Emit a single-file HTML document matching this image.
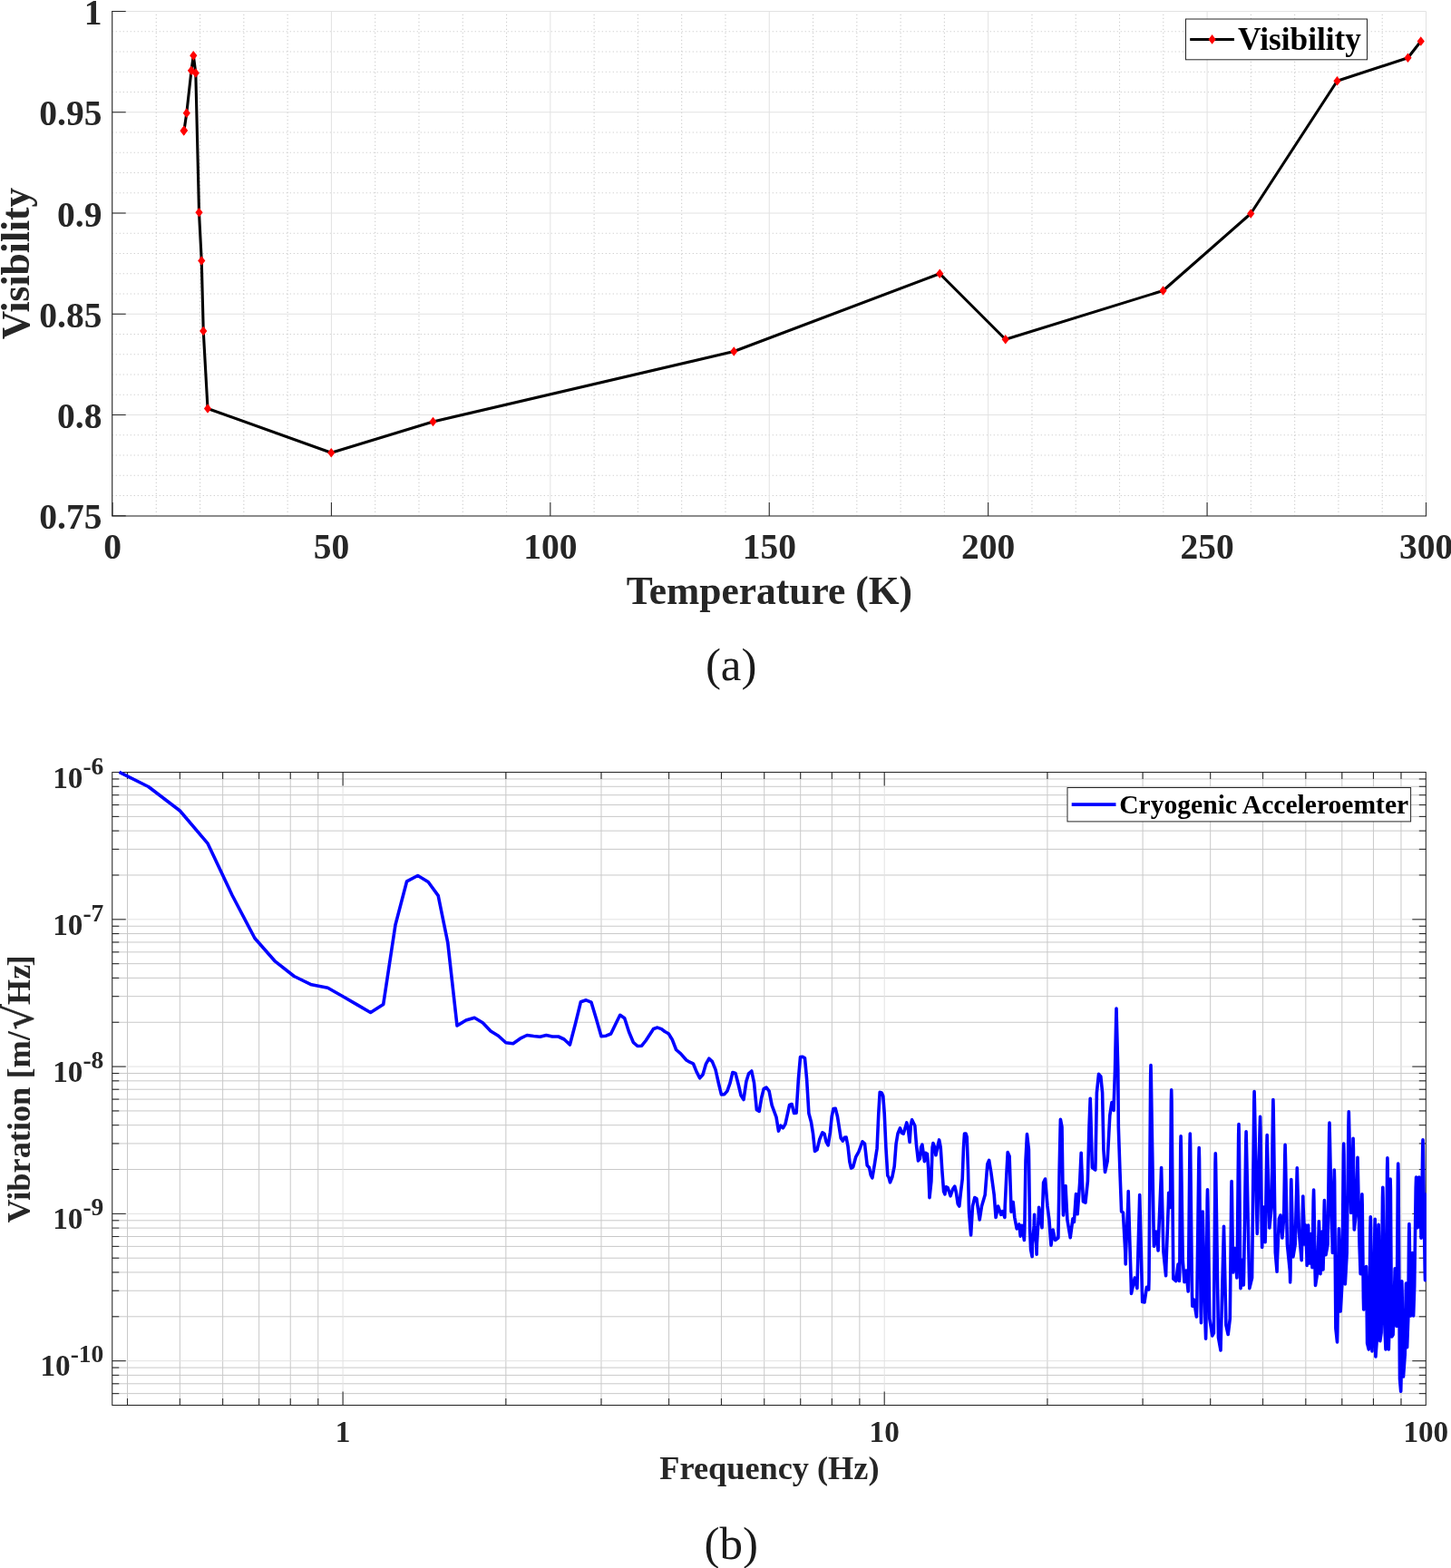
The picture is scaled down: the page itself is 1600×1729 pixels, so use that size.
<!DOCTYPE html>
<html lang="en">
<head>
<meta charset="utf-8">
<title>Visibility vs temperature and cryogenic accelerometer vibration spectrum</title>
<style>
html,body{margin:0;padding:0;background:#fff;}
body{width:1600px;height:1729px;overflow:hidden;}
svg{display:block;}
text{white-space:pre;}
</style>
</head>
<body>
<svg width="1600" height="1729" viewBox="0 0 1600 1729" role="img" aria-label="Two stacked plots: (a) visibility versus temperature, (b) vibration spectrum of a cryogenic accelerometer">
<rect width="1600" height="1729" fill="#fff"/>
<g id="chart-a">
<g stroke="#cdcdcd" stroke-width="1.1" stroke-dasharray="1.2 2.8" fill="none">
<line x1="172.28" y1="569.00" x2="172.28" y2="12.50"/>
<line x1="220.57" y1="569.00" x2="220.57" y2="12.50"/>
<line x1="268.85" y1="569.00" x2="268.85" y2="12.50"/>
<line x1="317.13" y1="569.00" x2="317.13" y2="12.50"/>
<line x1="413.70" y1="569.00" x2="413.70" y2="12.50"/>
<line x1="461.98" y1="569.00" x2="461.98" y2="12.50"/>
<line x1="510.27" y1="569.00" x2="510.27" y2="12.50"/>
<line x1="558.55" y1="569.00" x2="558.55" y2="12.50"/>
<line x1="655.12" y1="569.00" x2="655.12" y2="12.50"/>
<line x1="703.40" y1="569.00" x2="703.40" y2="12.50"/>
<line x1="751.68" y1="569.00" x2="751.68" y2="12.50"/>
<line x1="799.97" y1="569.00" x2="799.97" y2="12.50"/>
<line x1="896.53" y1="569.00" x2="896.53" y2="12.50"/>
<line x1="944.82" y1="569.00" x2="944.82" y2="12.50"/>
<line x1="993.10" y1="569.00" x2="993.10" y2="12.50"/>
<line x1="1041.38" y1="569.00" x2="1041.38" y2="12.50"/>
<line x1="1137.95" y1="569.00" x2="1137.95" y2="12.50"/>
<line x1="1186.23" y1="569.00" x2="1186.23" y2="12.50"/>
<line x1="1234.52" y1="569.00" x2="1234.52" y2="12.50"/>
<line x1="1282.80" y1="569.00" x2="1282.80" y2="12.50"/>
<line x1="1379.37" y1="569.00" x2="1379.37" y2="12.50"/>
<line x1="1427.65" y1="569.00" x2="1427.65" y2="12.50"/>
<line x1="1475.93" y1="569.00" x2="1475.93" y2="12.50"/>
<line x1="1524.22" y1="569.00" x2="1524.22" y2="12.50"/>
<line x1="123.70" y1="546.50" x2="1572.50" y2="546.50"/>
<line x1="123.70" y1="524.25" x2="1572.50" y2="524.25"/>
<line x1="123.70" y1="502.00" x2="1572.50" y2="502.00"/>
<line x1="123.70" y1="479.75" x2="1572.50" y2="479.75"/>
<line x1="123.70" y1="435.25" x2="1572.50" y2="435.25"/>
<line x1="123.70" y1="413.00" x2="1572.50" y2="413.00"/>
<line x1="123.70" y1="390.75" x2="1572.50" y2="390.75"/>
<line x1="123.70" y1="368.50" x2="1572.50" y2="368.50"/>
<line x1="123.70" y1="324.00" x2="1572.50" y2="324.00"/>
<line x1="123.70" y1="301.75" x2="1572.50" y2="301.75"/>
<line x1="123.70" y1="279.50" x2="1572.50" y2="279.50"/>
<line x1="123.70" y1="257.25" x2="1572.50" y2="257.25"/>
<line x1="123.70" y1="212.75" x2="1572.50" y2="212.75"/>
<line x1="123.70" y1="190.50" x2="1572.50" y2="190.50"/>
<line x1="123.70" y1="168.25" x2="1572.50" y2="168.25"/>
<line x1="123.70" y1="146.00" x2="1572.50" y2="146.00"/>
<line x1="123.70" y1="101.50" x2="1572.50" y2="101.50"/>
<line x1="123.70" y1="79.25" x2="1572.50" y2="79.25"/>
<line x1="123.70" y1="57.00" x2="1572.50" y2="57.00"/>
<line x1="123.70" y1="34.75" x2="1572.50" y2="34.75"/>
</g>
<g stroke="#e2e2e2" stroke-width="1.0" fill="none">
<line x1="124.00" y1="569.00" x2="124.00" y2="12.50"/>
<line x1="365.42" y1="569.00" x2="365.42" y2="12.50"/>
<line x1="606.83" y1="569.00" x2="606.83" y2="12.50"/>
<line x1="848.25" y1="569.00" x2="848.25" y2="12.50"/>
<line x1="1089.67" y1="569.00" x2="1089.67" y2="12.50"/>
<line x1="1331.08" y1="569.00" x2="1331.08" y2="12.50"/>
<line x1="1572.50" y1="569.00" x2="1572.50" y2="12.50"/>
<line x1="123.70" y1="568.75" x2="1572.50" y2="568.75"/>
<line x1="123.70" y1="457.50" x2="1572.50" y2="457.50"/>
<line x1="123.70" y1="346.25" x2="1572.50" y2="346.25"/>
<line x1="123.70" y1="235.00" x2="1572.50" y2="235.00"/>
<line x1="123.70" y1="123.75" x2="1572.50" y2="123.75"/>
<line x1="123.70" y1="12.50" x2="1572.50" y2="12.50"/>
</g>
<g stroke="#262626" stroke-width="1.05" fill="none">
<path d="M123.70 11.90V569.00H1573.10"/>
<line x1="124.00" y1="569.00" x2="124.00" y2="554.00"/>
<line x1="365.42" y1="569.00" x2="365.42" y2="554.00"/>
<line x1="606.83" y1="569.00" x2="606.83" y2="554.00"/>
<line x1="848.25" y1="569.00" x2="848.25" y2="554.00"/>
<line x1="1089.67" y1="569.00" x2="1089.67" y2="554.00"/>
<line x1="1331.08" y1="569.00" x2="1331.08" y2="554.00"/>
<line x1="1572.50" y1="569.00" x2="1572.50" y2="554.00"/>
<line x1="123.70" y1="568.75" x2="138.70" y2="568.75"/>
<line x1="123.70" y1="457.50" x2="138.70" y2="457.50"/>
<line x1="123.70" y1="346.25" x2="138.70" y2="346.25"/>
<line x1="123.70" y1="235.00" x2="138.70" y2="235.00"/>
<line x1="123.70" y1="123.75" x2="138.70" y2="123.75"/>
<line x1="123.70" y1="12.50" x2="138.70" y2="12.50"/>
</g>
<polyline fill="none" stroke="#000" stroke-width="3.1" stroke-linejoin="round" points="202.60,144.30 203.00,143.80 205.80,124.70 211.00,77.80 213.30,61.30 215.80,80.50 219.50,234.25 222.25,287.50 224.25,365.00 229.00,450.50 365.25,499.25 477.50,465.00 809.25,387.50 1036.25,301.75 1108.75,374.25 1282.50,320.50 1379.25,235.50 1474.50,89.25 1552.50,63.75 1566.75,45.50"/>
<g fill="#ff0000">
<path d="M202.60 138.95L206.70 144.30L202.60 149.65L198.50 144.30Z"/>
<path d="M203.00 138.45L207.10 143.80L203.00 149.15L198.90 143.80Z"/>
<path d="M205.80 119.35L209.90 124.70L205.80 130.05L201.70 124.70Z"/>
<path d="M211.00 72.45L215.10 77.80L211.00 83.15L206.90 77.80Z"/>
<path d="M213.30 55.95L217.40 61.30L213.30 66.65L209.20 61.30Z"/>
<path d="M215.80 75.15L219.90 80.50L215.80 85.85L211.70 80.50Z"/>
<path d="M219.50 228.90L223.60 234.25L219.50 239.60L215.40 234.25Z"/>
<path d="M222.25 282.15L226.35 287.50L222.25 292.85L218.15 287.50Z"/>
<path d="M224.25 359.65L228.35 365.00L224.25 370.35L220.15 365.00Z"/>
<path d="M229.00 445.15L233.10 450.50L229.00 455.85L224.90 450.50Z"/>
<path d="M365.25 493.90L369.35 499.25L365.25 504.60L361.15 499.25Z"/>
<path d="M477.50 459.65L481.60 465.00L477.50 470.35L473.40 465.00Z"/>
<path d="M809.25 382.15L813.35 387.50L809.25 392.85L805.15 387.50Z"/>
<path d="M1036.25 296.40L1040.35 301.75L1036.25 307.10L1032.15 301.75Z"/>
<path d="M1108.75 368.90L1112.85 374.25L1108.75 379.60L1104.65 374.25Z"/>
<path d="M1282.50 315.15L1286.60 320.50L1282.50 325.85L1278.40 320.50Z"/>
<path d="M1379.25 230.15L1383.35 235.50L1379.25 240.85L1375.15 235.50Z"/>
<path d="M1474.50 83.90L1478.60 89.25L1474.50 94.60L1470.40 89.25Z"/>
<path d="M1552.50 58.40L1556.60 63.75L1552.50 69.10L1548.40 63.75Z"/>
<path d="M1566.75 40.15L1570.85 45.50L1566.75 50.85L1562.65 45.50Z"/>
</g>
<g font-family="'Liberation Serif','DejaVu Serif',serif" font-weight="bold" font-size="39.5px" fill="#262626">
<text x="124.00" y="616.2" text-anchor="middle">0</text>
<text x="365.42" y="616.2" text-anchor="middle">50</text>
<text x="606.83" y="616.2" text-anchor="middle">100</text>
<text x="848.25" y="616.2" text-anchor="middle">150</text>
<text x="1089.67" y="616.2" text-anchor="middle">200</text>
<text x="1331.08" y="616.2" text-anchor="middle">250</text>
<text x="1572.50" y="616.2" text-anchor="middle">300</text>
<text x="112.4" y="27.10" text-anchor="end">1</text>
<text x="112.4" y="138.35" text-anchor="end">0.95</text>
<text x="112.4" y="249.60" text-anchor="end">0.9</text>
<text x="112.4" y="360.85" text-anchor="end">0.85</text>
<text x="112.4" y="472.10" text-anchor="end">0.8</text>
<text x="112.4" y="583.35" text-anchor="end">0.75</text>
</g>
<g font-family="'Liberation Serif','DejaVu Serif',serif" font-weight="bold" font-size="43.5px" fill="#262626">
<text x="848.4" y="665.8" text-anchor="middle">Temperature (K)</text>
<text transform="translate(31.6,290.5) rotate(-90)" text-anchor="middle">Visibility</text>
</g>
<rect x="1307.5" y="21" width="200" height="44.8" fill="#fff" stroke="#262626" stroke-width="1"/>
<line x1="1312.2" y1="43.45" x2="1361" y2="43.45" stroke="#000" stroke-width="3.1"/>
<g fill="#ff0000"><path d="M1336.60 38.10L1340.70 43.45L1336.60 48.80L1332.50 43.45Z"/></g>
<text x="1365" y="55.2" font-family="'Liberation Serif','DejaVu Serif',serif" font-weight="bold" font-size="35.3px" fill="#000">Visibility</text>
</g>
<text x="806.2" y="749.6" text-anchor="middle" font-family="'Liberation Serif','DejaVu Serif',serif" font-size="51px" fill="#1a1a1a">(a)</text>
<g id="chart-b">
<g stroke="#c9c9c9" stroke-width="1" fill="none">
<line x1="140.49" y1="1549.50" x2="140.49" y2="851.55"/>
<line x1="198.35" y1="1549.50" x2="198.35" y2="851.55"/>
<line x1="245.63" y1="1549.50" x2="245.63" y2="851.55"/>
<line x1="285.61" y1="1549.50" x2="285.61" y2="851.55"/>
<line x1="320.24" y1="1549.50" x2="320.24" y2="851.55"/>
<line x1="350.78" y1="1549.50" x2="350.78" y2="851.55"/>
<line x1="557.85" y1="1549.50" x2="557.85" y2="851.55"/>
<line x1="662.99" y1="1549.50" x2="662.99" y2="851.55"/>
<line x1="737.59" y1="1549.50" x2="737.59" y2="851.55"/>
<line x1="795.45" y1="1549.50" x2="795.45" y2="851.55"/>
<line x1="842.73" y1="1549.50" x2="842.73" y2="851.55"/>
<line x1="882.71" y1="1549.50" x2="882.71" y2="851.55"/>
<line x1="917.34" y1="1549.50" x2="917.34" y2="851.55"/>
<line x1="947.88" y1="1549.50" x2="947.88" y2="851.55"/>
<line x1="1154.95" y1="1549.50" x2="1154.95" y2="851.55"/>
<line x1="1260.09" y1="1549.50" x2="1260.09" y2="851.55"/>
<line x1="1334.69" y1="1549.50" x2="1334.69" y2="851.55"/>
<line x1="1392.55" y1="1549.50" x2="1392.55" y2="851.55"/>
<line x1="1439.83" y1="1549.50" x2="1439.83" y2="851.55"/>
<line x1="1479.81" y1="1549.50" x2="1479.81" y2="851.55"/>
<line x1="1514.44" y1="1549.50" x2="1514.44" y2="851.55"/>
<line x1="1544.98" y1="1549.50" x2="1544.98" y2="851.55"/>
<line x1="123.75" y1="1536.65" x2="1572.30" y2="1536.65"/>
<line x1="123.75" y1="1525.79" x2="1572.30" y2="1525.79"/>
<line x1="123.75" y1="1516.38" x2="1572.30" y2="1516.38"/>
<line x1="123.75" y1="1508.08" x2="1572.30" y2="1508.08"/>
<line x1="123.75" y1="1451.80" x2="1572.30" y2="1451.80"/>
<line x1="123.75" y1="1423.23" x2="1572.30" y2="1423.23"/>
<line x1="123.75" y1="1402.95" x2="1572.30" y2="1402.95"/>
<line x1="123.75" y1="1387.22" x2="1572.30" y2="1387.22"/>
<line x1="123.75" y1="1374.38" x2="1572.30" y2="1374.38"/>
<line x1="123.75" y1="1363.51" x2="1572.30" y2="1363.51"/>
<line x1="123.75" y1="1354.10" x2="1572.30" y2="1354.10"/>
<line x1="123.75" y1="1345.80" x2="1572.30" y2="1345.80"/>
<line x1="123.75" y1="1289.53" x2="1572.30" y2="1289.53"/>
<line x1="123.75" y1="1260.95" x2="1572.30" y2="1260.95"/>
<line x1="123.75" y1="1240.68" x2="1572.30" y2="1240.68"/>
<line x1="123.75" y1="1224.95" x2="1572.30" y2="1224.95"/>
<line x1="123.75" y1="1212.10" x2="1572.30" y2="1212.10"/>
<line x1="123.75" y1="1201.24" x2="1572.30" y2="1201.24"/>
<line x1="123.75" y1="1191.83" x2="1572.30" y2="1191.83"/>
<line x1="123.75" y1="1183.53" x2="1572.30" y2="1183.53"/>
<line x1="123.75" y1="1127.25" x2="1572.30" y2="1127.25"/>
<line x1="123.75" y1="1098.68" x2="1572.30" y2="1098.68"/>
<line x1="123.75" y1="1078.40" x2="1572.30" y2="1078.40"/>
<line x1="123.75" y1="1062.67" x2="1572.30" y2="1062.67"/>
<line x1="123.75" y1="1049.83" x2="1572.30" y2="1049.83"/>
<line x1="123.75" y1="1038.96" x2="1572.30" y2="1038.96"/>
<line x1="123.75" y1="1029.55" x2="1572.30" y2="1029.55"/>
<line x1="123.75" y1="1021.25" x2="1572.30" y2="1021.25"/>
<line x1="123.75" y1="964.98" x2="1572.30" y2="964.98"/>
<line x1="123.75" y1="936.40" x2="1572.30" y2="936.40"/>
<line x1="123.75" y1="916.13" x2="1572.30" y2="916.13"/>
<line x1="123.75" y1="900.40" x2="1572.30" y2="900.40"/>
<line x1="123.75" y1="887.55" x2="1572.30" y2="887.55"/>
<line x1="123.75" y1="876.69" x2="1572.30" y2="876.69"/>
<line x1="123.75" y1="867.28" x2="1572.30" y2="867.28"/>
<line x1="123.75" y1="858.98" x2="1572.30" y2="858.98"/>
</g>
<g stroke="#e2e2e2" stroke-width="1.0" fill="none">
<line x1="378.10" y1="1549.50" x2="378.10" y2="851.55"/>
<line x1="975.20" y1="1549.50" x2="975.20" y2="851.55"/>
<line x1="123.75" y1="1013.82" x2="1572.30" y2="1013.82"/>
<line x1="123.75" y1="1176.10" x2="1572.30" y2="1176.10"/>
<line x1="123.75" y1="1338.38" x2="1572.30" y2="1338.38"/>
<line x1="123.75" y1="1500.65" x2="1572.30" y2="1500.65"/>
</g>
<clipPath id="clipb"><rect x="121.75" y="847.55" width="1451.1499999999999" height="701.95"/></clipPath>
<g stroke="#262626" stroke-width="1.05" fill="none">
<rect x="123.75" y="851.55" width="1448.55" height="697.95"/>
<line x1="140.49" y1="1549.50" x2="140.49" y2="1542.00"/>
<line x1="140.49" y1="851.55" x2="140.49" y2="859.05"/>
<line x1="198.35" y1="1549.50" x2="198.35" y2="1542.00"/>
<line x1="198.35" y1="851.55" x2="198.35" y2="859.05"/>
<line x1="245.63" y1="1549.50" x2="245.63" y2="1542.00"/>
<line x1="245.63" y1="851.55" x2="245.63" y2="859.05"/>
<line x1="285.61" y1="1549.50" x2="285.61" y2="1542.00"/>
<line x1="285.61" y1="851.55" x2="285.61" y2="859.05"/>
<line x1="320.24" y1="1549.50" x2="320.24" y2="1542.00"/>
<line x1="320.24" y1="851.55" x2="320.24" y2="859.05"/>
<line x1="350.78" y1="1549.50" x2="350.78" y2="1542.00"/>
<line x1="350.78" y1="851.55" x2="350.78" y2="859.05"/>
<line x1="378.10" y1="1549.50" x2="378.10" y2="1534.50"/>
<line x1="378.10" y1="851.55" x2="378.10" y2="866.55"/>
<line x1="557.85" y1="1549.50" x2="557.85" y2="1542.00"/>
<line x1="557.85" y1="851.55" x2="557.85" y2="859.05"/>
<line x1="662.99" y1="1549.50" x2="662.99" y2="1542.00"/>
<line x1="662.99" y1="851.55" x2="662.99" y2="859.05"/>
<line x1="737.59" y1="1549.50" x2="737.59" y2="1542.00"/>
<line x1="737.59" y1="851.55" x2="737.59" y2="859.05"/>
<line x1="795.45" y1="1549.50" x2="795.45" y2="1542.00"/>
<line x1="795.45" y1="851.55" x2="795.45" y2="859.05"/>
<line x1="842.73" y1="1549.50" x2="842.73" y2="1542.00"/>
<line x1="842.73" y1="851.55" x2="842.73" y2="859.05"/>
<line x1="882.71" y1="1549.50" x2="882.71" y2="1542.00"/>
<line x1="882.71" y1="851.55" x2="882.71" y2="859.05"/>
<line x1="917.34" y1="1549.50" x2="917.34" y2="1542.00"/>
<line x1="917.34" y1="851.55" x2="917.34" y2="859.05"/>
<line x1="947.88" y1="1549.50" x2="947.88" y2="1542.00"/>
<line x1="947.88" y1="851.55" x2="947.88" y2="859.05"/>
<line x1="975.20" y1="1549.50" x2="975.20" y2="1534.50"/>
<line x1="975.20" y1="851.55" x2="975.20" y2="866.55"/>
<line x1="1154.95" y1="1549.50" x2="1154.95" y2="1542.00"/>
<line x1="1154.95" y1="851.55" x2="1154.95" y2="859.05"/>
<line x1="1260.09" y1="1549.50" x2="1260.09" y2="1542.00"/>
<line x1="1260.09" y1="851.55" x2="1260.09" y2="859.05"/>
<line x1="1334.69" y1="1549.50" x2="1334.69" y2="1542.00"/>
<line x1="1334.69" y1="851.55" x2="1334.69" y2="859.05"/>
<line x1="1392.55" y1="1549.50" x2="1392.55" y2="1542.00"/>
<line x1="1392.55" y1="851.55" x2="1392.55" y2="859.05"/>
<line x1="1439.83" y1="1549.50" x2="1439.83" y2="1542.00"/>
<line x1="1439.83" y1="851.55" x2="1439.83" y2="859.05"/>
<line x1="1479.81" y1="1549.50" x2="1479.81" y2="1542.00"/>
<line x1="1479.81" y1="851.55" x2="1479.81" y2="859.05"/>
<line x1="1514.44" y1="1549.50" x2="1514.44" y2="1542.00"/>
<line x1="1514.44" y1="851.55" x2="1514.44" y2="859.05"/>
<line x1="1544.98" y1="1549.50" x2="1544.98" y2="1542.00"/>
<line x1="1544.98" y1="851.55" x2="1544.98" y2="859.05"/>
<line x1="123.75" y1="1536.65" x2="131.25" y2="1536.65"/>
<line x1="1572.30" y1="1536.65" x2="1564.80" y2="1536.65"/>
<line x1="123.75" y1="1525.79" x2="131.25" y2="1525.79"/>
<line x1="1572.30" y1="1525.79" x2="1564.80" y2="1525.79"/>
<line x1="123.75" y1="1516.38" x2="131.25" y2="1516.38"/>
<line x1="1572.30" y1="1516.38" x2="1564.80" y2="1516.38"/>
<line x1="123.75" y1="1508.08" x2="131.25" y2="1508.08"/>
<line x1="1572.30" y1="1508.08" x2="1564.80" y2="1508.08"/>
<line x1="123.75" y1="1500.65" x2="138.75" y2="1500.65"/>
<line x1="1572.30" y1="1500.65" x2="1557.30" y2="1500.65"/>
<line x1="123.75" y1="1451.80" x2="131.25" y2="1451.80"/>
<line x1="1572.30" y1="1451.80" x2="1564.80" y2="1451.80"/>
<line x1="123.75" y1="1423.23" x2="131.25" y2="1423.23"/>
<line x1="1572.30" y1="1423.23" x2="1564.80" y2="1423.23"/>
<line x1="123.75" y1="1402.95" x2="131.25" y2="1402.95"/>
<line x1="1572.30" y1="1402.95" x2="1564.80" y2="1402.95"/>
<line x1="123.75" y1="1387.22" x2="131.25" y2="1387.22"/>
<line x1="1572.30" y1="1387.22" x2="1564.80" y2="1387.22"/>
<line x1="123.75" y1="1374.38" x2="131.25" y2="1374.38"/>
<line x1="1572.30" y1="1374.38" x2="1564.80" y2="1374.38"/>
<line x1="123.75" y1="1363.51" x2="131.25" y2="1363.51"/>
<line x1="1572.30" y1="1363.51" x2="1564.80" y2="1363.51"/>
<line x1="123.75" y1="1354.10" x2="131.25" y2="1354.10"/>
<line x1="1572.30" y1="1354.10" x2="1564.80" y2="1354.10"/>
<line x1="123.75" y1="1345.80" x2="131.25" y2="1345.80"/>
<line x1="1572.30" y1="1345.80" x2="1564.80" y2="1345.80"/>
<line x1="123.75" y1="1338.38" x2="138.75" y2="1338.38"/>
<line x1="1572.30" y1="1338.38" x2="1557.30" y2="1338.38"/>
<line x1="123.75" y1="1289.53" x2="131.25" y2="1289.53"/>
<line x1="1572.30" y1="1289.53" x2="1564.80" y2="1289.53"/>
<line x1="123.75" y1="1260.95" x2="131.25" y2="1260.95"/>
<line x1="1572.30" y1="1260.95" x2="1564.80" y2="1260.95"/>
<line x1="123.75" y1="1240.68" x2="131.25" y2="1240.68"/>
<line x1="1572.30" y1="1240.68" x2="1564.80" y2="1240.68"/>
<line x1="123.75" y1="1224.95" x2="131.25" y2="1224.95"/>
<line x1="1572.30" y1="1224.95" x2="1564.80" y2="1224.95"/>
<line x1="123.75" y1="1212.10" x2="131.25" y2="1212.10"/>
<line x1="1572.30" y1="1212.10" x2="1564.80" y2="1212.10"/>
<line x1="123.75" y1="1201.24" x2="131.25" y2="1201.24"/>
<line x1="1572.30" y1="1201.24" x2="1564.80" y2="1201.24"/>
<line x1="123.75" y1="1191.83" x2="131.25" y2="1191.83"/>
<line x1="1572.30" y1="1191.83" x2="1564.80" y2="1191.83"/>
<line x1="123.75" y1="1183.53" x2="131.25" y2="1183.53"/>
<line x1="1572.30" y1="1183.53" x2="1564.80" y2="1183.53"/>
<line x1="123.75" y1="1176.10" x2="138.75" y2="1176.10"/>
<line x1="1572.30" y1="1176.10" x2="1557.30" y2="1176.10"/>
<line x1="123.75" y1="1127.25" x2="131.25" y2="1127.25"/>
<line x1="1572.30" y1="1127.25" x2="1564.80" y2="1127.25"/>
<line x1="123.75" y1="1098.68" x2="131.25" y2="1098.68"/>
<line x1="1572.30" y1="1098.68" x2="1564.80" y2="1098.68"/>
<line x1="123.75" y1="1078.40" x2="131.25" y2="1078.40"/>
<line x1="1572.30" y1="1078.40" x2="1564.80" y2="1078.40"/>
<line x1="123.75" y1="1062.67" x2="131.25" y2="1062.67"/>
<line x1="1572.30" y1="1062.67" x2="1564.80" y2="1062.67"/>
<line x1="123.75" y1="1049.83" x2="131.25" y2="1049.83"/>
<line x1="1572.30" y1="1049.83" x2="1564.80" y2="1049.83"/>
<line x1="123.75" y1="1038.96" x2="131.25" y2="1038.96"/>
<line x1="1572.30" y1="1038.96" x2="1564.80" y2="1038.96"/>
<line x1="123.75" y1="1029.55" x2="131.25" y2="1029.55"/>
<line x1="1572.30" y1="1029.55" x2="1564.80" y2="1029.55"/>
<line x1="123.75" y1="1021.25" x2="131.25" y2="1021.25"/>
<line x1="1572.30" y1="1021.25" x2="1564.80" y2="1021.25"/>
<line x1="123.75" y1="1013.82" x2="138.75" y2="1013.82"/>
<line x1="1572.30" y1="1013.82" x2="1557.30" y2="1013.82"/>
<line x1="123.75" y1="964.98" x2="131.25" y2="964.98"/>
<line x1="1572.30" y1="964.98" x2="1564.80" y2="964.98"/>
<line x1="123.75" y1="936.40" x2="131.25" y2="936.40"/>
<line x1="1572.30" y1="936.40" x2="1564.80" y2="936.40"/>
<line x1="123.75" y1="916.13" x2="131.25" y2="916.13"/>
<line x1="1572.30" y1="916.13" x2="1564.80" y2="916.13"/>
<line x1="123.75" y1="900.40" x2="131.25" y2="900.40"/>
<line x1="1572.30" y1="900.40" x2="1564.80" y2="900.40"/>
<line x1="123.75" y1="887.55" x2="131.25" y2="887.55"/>
<line x1="1572.30" y1="887.55" x2="1564.80" y2="887.55"/>
<line x1="123.75" y1="876.69" x2="131.25" y2="876.69"/>
<line x1="1572.30" y1="876.69" x2="1564.80" y2="876.69"/>
<line x1="123.75" y1="867.28" x2="131.25" y2="867.28"/>
<line x1="1572.30" y1="867.28" x2="1564.80" y2="867.28"/>
<line x1="123.75" y1="858.98" x2="131.25" y2="858.98"/>
<line x1="1572.30" y1="858.98" x2="1564.80" y2="858.98"/>
</g>
<polyline clip-path="url(#clipb)" fill="none" stroke="#0000ff" stroke-width="3.6" stroke-linejoin="round" points="131.5,851.4 163.7,867.5 198.4,894.0 228.9,929.8 256.2,987.5 280.9,1034.5 303.5,1060.2 324.3,1076.5 343.5,1085.8 361.4,1089.2 378.1,1098.7 393.8,1107.9 408.6,1116.5 422.7,1107.5 436.0,1019.8 448.6,971.8 460.7,965.5 472.2,972.5 483.2,987.6 493.8,1039.7 504.0,1131.0 513.8,1125.0 523.2,1122.3 532.3,1127.7 541.1,1137.0 549.6,1142.2 557.8,1149.8 565.8,1150.8 573.6,1145.2 581.1,1141.5 588.4,1142.5 595.5,1143.3 602.4,1141.5 609.1,1143.0 615.7,1143.0 622.1,1146.0 628.4,1152.0 634.5,1128.8 640.4,1104.8 646.3,1102.8 652.0,1105.2 657.5,1123.5 663.0,1142.7 668.3,1142.2 673.6,1140.0 678.7,1129.5 683.7,1119.3 688.7,1122.8 693.5,1137.8 698.3,1149.3 703.0,1153.5 707.6,1153.2 712.1,1147.5 720.6,1134.4 725.0,1133.1 729.4,1134.6 733.1,1137.5 737.2,1139.8 741.2,1146.2 745.6,1157.5 750.6,1161.9 756.9,1169.0 760.6,1171.2 764.4,1172.8 768.1,1181.9 771.6,1188.8 775.0,1185.0 778.5,1173.1 781.9,1167.2 785.4,1170.6 789.0,1179.4 792.5,1195.0 795.4,1206.9 798.8,1206.6 801.9,1203.1 805.0,1194.4 807.9,1182.5 811.0,1183.5 814.0,1195.0 817.1,1208.1 820.0,1212.5 822.9,1192.5 825.6,1183.8 828.8,1181.0 831.5,1193.8 834.4,1223.8 837.2,1225.4 839.8,1210.0 842.2,1200.6 845.0,1199.0 848.1,1203.1 851.2,1218.8 856.0,1231.9 858.5,1247.2 860.9,1241.2 863.4,1243.8 866.0,1239.4 870.6,1218.5 873.1,1217.5 875.6,1227.5 878.1,1227.2 880.4,1190.0 882.5,1165.6 885.0,1165.2 887.5,1166.8 889.6,1190.0 891.9,1227.8 894.4,1236.9 896.5,1250.0 898.5,1269.4 901.0,1267.8 903.8,1256.2 906.9,1248.8 909.0,1250.2 911.0,1258.8 913.2,1262.8 915.4,1248.8 917.2,1231.2 919.0,1222.5 921.2,1222.2 923.5,1231.2 927.2,1255.0 929.4,1258.1 931.2,1254.4 933.1,1254.1 935.0,1263.8 936.9,1281.2 938.5,1288.1 940.6,1286.9 943.8,1275.6 946.9,1270.0 951.0,1258.8 953.5,1261.0 956.2,1285.0 958.5,1287.5 960.2,1295.6 961.9,1298.8 964.4,1283.8 967.1,1266.2 968.8,1227.5 970.2,1204.4 972.2,1205.0 973.8,1208.8 975.2,1227.5 976.9,1265.0 978.8,1296.2 980.0,1298.1 981.5,1303.8 983.8,1298.1 986.2,1286.2 988.1,1261.2 990.0,1250.0 992.5,1243.8 994.4,1249.4 996.2,1250.2 998.1,1243.8 999.8,1237.9 1001.2,1243.8 1003.1,1259.4 1004.4,1240.0 1005.6,1234.8 1008.8,1241.2 1010.6,1263.8 1012.5,1280.0 1014.4,1277.5 1015.6,1265.0 1016.9,1262.2 1019.4,1280.6 1020.6,1271.2 1022.5,1272.5 1023.8,1290.0 1025.0,1320.6 1026.9,1302.5 1028.1,1265.0 1029.0,1260.6 1030.6,1265.0 1031.9,1273.8 1033.8,1265.0 1035.6,1256.9 1037.2,1265.0 1038.8,1290.0 1040.6,1313.8 1041.9,1316.9 1043.1,1308.8 1045.0,1309.4 1048.1,1318.8 1050.6,1311.2 1052.8,1308.1 1054.4,1315.0 1056.2,1327.5 1057.8,1330.0 1059.4,1315.0 1061.2,1300.0 1062.5,1265.0 1063.5,1250.0 1065.0,1250.0 1066.2,1253.8 1067.5,1290.0 1068.5,1336.0 1070.6,1361.9 1072.5,1330.0 1074.8,1320.6 1076.9,1321.9 1080.2,1345.0 1082.5,1330.0 1086.2,1317.5 1088.8,1283.8 1090.6,1279.4 1092.8,1292.5 1096.2,1317.5 1098.1,1342.5 1100.6,1330.0 1103.8,1339.4 1105.6,1335.6 1107.9,1342.5 1108.2,1330.5 1110.0,1292.5 1111.2,1270.6 1113.1,1275.0 1114.7,1324.2 1115.0,1336.2 1117.2,1325.6 1118.8,1342.5 1121.2,1355.0 1123.8,1350.0 1125.2,1363.1 1126.9,1351.2 1129.4,1367.5 1129.8,1355.5 1131.0,1280.0 1132.5,1250.6 1134.4,1267.5 1135.6,1355.0 1136.6,1378.0 1138.1,1385.6 1138.4,1373.6 1140.2,1351.4 1140.6,1339.4 1140.9,1351.4 1142.8,1371.1 1143.1,1383.1 1143.4,1371.1 1145.2,1343.2 1145.6,1331.2 1149.0,1353.8 1149.3,1341.8 1150.6,1304.0 1152.5,1300.0 1155.0,1330.0 1156.9,1345.0 1159.0,1373.1 1161.1,1356.0 1163.5,1367.5 1166.9,1365.0 1168.1,1292.5 1169.1,1246.4 1169.4,1234.4 1171.0,1242.5 1172.2,1328.0 1172.5,1340.0 1175.0,1307.5 1176.9,1345.0 1180.2,1364.8 1183.0,1343.8 1184.4,1347.5 1186.5,1316.5 1188.1,1338.8 1190.6,1305.0 1192.2,1271.2 1192.6,1283.2 1194.4,1325.0 1196.9,1326.2 1199.4,1302.5 1201.0,1242.5 1202.2,1211.2 1202.6,1223.2 1204.4,1287.5 1207.8,1290.0 1208.1,1278.0 1209.4,1205.0 1211.5,1184.4 1213.8,1186.9 1215.6,1205.0 1216.9,1267.5 1218.5,1292.5 1221.2,1280.0 1223.8,1230.0 1226.0,1215.6 1228.1,1224.4 1228.4,1212.4 1229.5,1180.0 1230.7,1124.0 1231.0,1112.0 1231.3,1124.0 1232.8,1180.0 1233.3,1242.5 1235.0,1292.5 1236.6,1336.0 1238.4,1337.0 1240.9,1382.0 1241.2,1394.0 1241.5,1382.0 1243.9,1325.5 1244.2,1313.5 1244.5,1325.5 1247.2,1414.4 1247.5,1426.4 1251.2,1409.0 1253.9,1420.6 1254.2,1408.6 1256.4,1329.6 1256.7,1317.6 1257.0,1329.6 1259.7,1435.6 1262.0,1436.0 1264.4,1419.4 1266.7,1422.0 1267.0,1410.0 1268.7,1186.5 1269.0,1174.5 1269.3,1186.5 1272.2,1362.3 1272.5,1374.3 1274.8,1358.0 1277.1,1379.0 1277.4,1367.0 1280.2,1299.5 1280.6,1287.5 1280.9,1299.5 1282.9,1380.0 1285.6,1406.7 1285.9,1394.7 1288.4,1327.3 1288.7,1315.3 1290.3,1331.5 1290.6,1319.5 1291.4,1213.9 1291.7,1201.9 1292.0,1213.9 1293.8,1410.0 1296.8,1412.5 1299.1,1394.0 1300.5,1412.5 1300.8,1400.5 1301.8,1264.8 1302.1,1252.8 1302.4,1264.8 1304.2,1389.0 1306.0,1413.7 1307.9,1401.0 1310.2,1424.0 1310.5,1412.0 1312.0,1262.0 1312.3,1250.0 1312.6,1262.0 1314.5,1428.3 1314.8,1440.3 1316.4,1433.0 1319.4,1451.9 1319.8,1439.9 1321.9,1277.5 1322.2,1265.5 1322.5,1277.5 1324.2,1446.8 1324.5,1458.8 1324.8,1446.8 1325.9,1348.0 1326.2,1336.0 1326.5,1348.0 1329.2,1464.2 1329.6,1476.2 1329.9,1464.2 1331.2,1323.8 1331.5,1311.8 1331.8,1323.8 1333.8,1454.0 1336.8,1473.0 1338.4,1470.0 1340.0,1283.8 1340.3,1271.8 1340.6,1283.8 1343.5,1475.0 1346.0,1489.0 1346.3,1477.0 1349.2,1364.3 1349.5,1352.3 1349.8,1364.3 1351.9,1461.0 1354.2,1471.5 1356.3,1454.0 1357.8,1314.5 1358.1,1302.5 1358.4,1314.5 1359.4,1391.0 1359.7,1403.0 1361.6,1376.6 1363.9,1409.0 1364.2,1397.0 1365.7,1251.6 1366.0,1239.6 1366.3,1251.6 1367.7,1408.6 1368.0,1420.6 1370.4,1389.0 1371.3,1417.0 1371.6,1405.0 1373.8,1259.7 1374.1,1247.7 1374.4,1259.7 1377.5,1408.6 1377.8,1420.6 1380.6,1409.0 1382.8,1215.5 1383.1,1203.5 1383.4,1215.5 1386.0,1348.4 1386.3,1360.4 1386.6,1348.4 1389.2,1243.2 1389.6,1231.2 1389.9,1243.2 1391.4,1363.5 1391.7,1375.5 1392.0,1363.5 1393.2,1343.0 1393.5,1331.0 1395.1,1369.7 1395.4,1357.7 1396.9,1263.6 1397.2,1251.6 1397.5,1263.6 1399.5,1342.0 1399.8,1354.0 1402.1,1331.0 1403.6,1224.5 1403.9,1212.5 1404.2,1224.5 1406.3,1381.0 1408.1,1402.3 1408.4,1390.3 1410.4,1344.0 1412.0,1340.0 1413.9,1365.0 1415.7,1342.0 1416.8,1274.3 1417.1,1262.3 1417.4,1274.3 1419.4,1372.0 1422.4,1401.9 1422.7,1413.9 1423.0,1401.9 1423.5,1312.5 1423.8,1300.5 1424.1,1312.5 1425.6,1374.0 1425.9,1386.0 1428.2,1372.0 1430.0,1299.7 1430.3,1287.7 1430.6,1299.7 1432.4,1358.0 1435.2,1389.6 1435.5,1377.6 1436.5,1331.0 1436.8,1319.0 1437.1,1331.0 1438.4,1360.0 1438.7,1372.0 1439.8,1351.0 1440.1,1363.0 1440.9,1383.4 1441.2,1395.4 1441.5,1383.4 1442.2,1363.0 1442.6,1351.0 1442.9,1363.0 1443.7,1381.0 1444.0,1393.0 1445.6,1360.6 1447.0,1397.7 1447.3,1385.7 1448.2,1324.0 1448.6,1312.0 1448.9,1324.0 1450.2,1405.4 1450.5,1417.4 1452.5,1404.6 1454.1,1358.8 1454.4,1346.8 1454.8,1358.8 1455.7,1392.6 1456.0,1404.6 1456.3,1392.6 1457.6,1370.0 1457.9,1358.0 1458.2,1370.0 1458.7,1388.0 1459.0,1400.0 1459.3,1388.0 1460.1,1335.6 1460.4,1323.6 1460.8,1335.6 1461.7,1371.8 1462.0,1383.8 1464.1,1372.0 1465.7,1250.0 1466.0,1238.0 1466.3,1250.0 1468.1,1340.0 1469.1,1369.5 1469.4,1381.5 1469.8,1369.5 1471.0,1302.0 1471.3,1290.0 1471.6,1302.0 1472.9,1464.8 1474.5,1479.9 1474.8,1467.9 1476.1,1366.9 1476.4,1354.9 1476.8,1366.9 1477.9,1434.0 1478.2,1446.0 1479.9,1416.0 1481.4,1273.1 1481.7,1261.1 1482.0,1273.1 1483.0,1404.0 1483.3,1416.0 1485.2,1381.5 1487.0,1237.9 1487.3,1225.9 1487.6,1237.9 1489.5,1325.5 1489.8,1337.5 1490.1,1325.5 1491.8,1267.3 1492.1,1255.3 1492.4,1267.3 1493.0,1344.0 1493.3,1356.0 1494.9,1340.0 1496.7,1288.2 1497.0,1276.2 1497.3,1288.2 1499.1,1374.5 1500.2,1404.6 1500.5,1392.6 1501.6,1328.7 1501.9,1316.7 1502.2,1328.7 1503.4,1432.0 1503.7,1444.0 1504.9,1428.0 1506.5,1396.5 1506.8,1408.5 1507.6,1481.0 1509.3,1488.0 1509.6,1476.0 1511.0,1353.7 1511.3,1341.7 1511.6,1353.7 1512.7,1478.0 1513.0,1490.0 1513.3,1478.0 1514.6,1428.0 1515.9,1356.4 1516.2,1344.4 1516.4,1356.4 1516.7,1484.0 1516.9,1496.0 1518.5,1474.0 1519.8,1362.2 1520.1,1350.2 1520.4,1362.2 1521.5,1466.7 1521.8,1478.7 1523.1,1469.4 1524.5,1321.3 1524.8,1309.3 1525.1,1321.3 1526.4,1451.0 1528.0,1488.0 1528.3,1476.0 1529.6,1288.9 1529.9,1276.9 1530.2,1288.9 1531.0,1476.0 1531.3,1488.0 1531.6,1476.0 1532.8,1312.0 1533.1,1300.0 1533.4,1312.0 1534.4,1462.0 1534.7,1474.0 1536.1,1471.8 1537.9,1410.8 1538.2,1398.8 1538.5,1410.8 1539.7,1450.5 1540.0,1462.5 1540.3,1450.5 1541.4,1295.1 1541.7,1283.1 1542.0,1295.1 1543.5,1520.4 1544.7,1534.3 1545.0,1522.3 1545.5,1424.7 1545.8,1412.7 1546.1,1424.7 1547.2,1506.0 1547.5,1518.0 1549.3,1492.6 1550.2,1427.0 1550.5,1415.0 1550.8,1427.0 1551.3,1473.6 1551.6,1485.6 1552.8,1453.2 1553.6,1361.5 1553.9,1349.5 1554.2,1361.5 1555.2,1439.0 1555.6,1451.0 1555.9,1439.0 1557.1,1393.5 1557.4,1381.5 1557.8,1393.5 1558.2,1439.0 1558.6,1451.0 1559.7,1418.5 1561.2,1310.1 1561.6,1298.1 1561.9,1310.1 1562.9,1341.7 1563.2,1353.7 1563.5,1341.7 1564.5,1310.1 1564.8,1298.1 1565.1,1310.1 1566.8,1353.3 1567.1,1365.3 1567.4,1353.3 1568.7,1268.9 1569.0,1256.9 1569.3,1268.9 1570.6,1358.3 1571.2,1399.6 1571.5,1411.6 1571.8,1399.6 1572.5,1315.5"/>
<g font-family="'Liberation Serif','DejaVu Serif',serif" font-weight="bold" font-size="33.2px" fill="#262626">
<text x="378.10" y="1589.5" text-anchor="middle">1</text>
<text x="975.20" y="1589.5" text-anchor="middle">10</text>
<text x="1572.30" y="1589.5" text-anchor="middle">100</text>
<text x="114.3" y="869.05" text-anchor="end">10<tspan dy="-15.3" font-size="27.5px">-6</tspan></text>
<text x="114.3" y="1031.15" text-anchor="end">10<tspan dy="-15.3" font-size="27.5px">-7</tspan></text>
<text x="114.3" y="1193.25" text-anchor="end">10<tspan dy="-15.3" font-size="27.5px">-8</tspan></text>
<text x="114.3" y="1355.35" text-anchor="end">10<tspan dy="-15.3" font-size="27.5px">-9</tspan></text>
<text x="114.3" y="1517.45" text-anchor="end">10<tspan dy="-15.3" font-size="27.5px">-10</tspan></text>
</g>
<g font-family="'Liberation Serif','DejaVu Serif',serif" font-weight="bold" font-size="36.3px" fill="#262626">
<text x="848.4" y="1631" text-anchor="middle">Frequency (Hz)</text>
<text transform="translate(32.6,1348.6) rotate(-90)">Vibration [m/<tspan x="212.8" dy="3.0" font-family="'DejaVu Sans',sans-serif" font-weight="normal" font-size="45px" stroke="#262626" stroke-width="0.4">√</tspan><tspan x="240.6" dy="-3.0">Hz</tspan><tspan dx="-1.8">]</tspan></text>
</g>
<rect x="1177" y="868.5" width="378.6" height="37.4" fill="#fff" stroke="#262626" stroke-width="1"/>
<line x1="1181.7" y1="887.1" x2="1230.5" y2="887.1" stroke="#0000ff" stroke-width="3.6"/>
<text x="1234.2" y="897.4" font-family="'Liberation Serif','DejaVu Serif',serif" font-weight="bold" font-size="29.6px" fill="#000">Cryogenic Acceleroemter</text>
</g>
<text x="806.2" y="1719" text-anchor="middle" font-family="'Liberation Serif','DejaVu Serif',serif" font-size="51px" fill="#1a1a1a">(b)</text>
</svg>
</body>
</html>
